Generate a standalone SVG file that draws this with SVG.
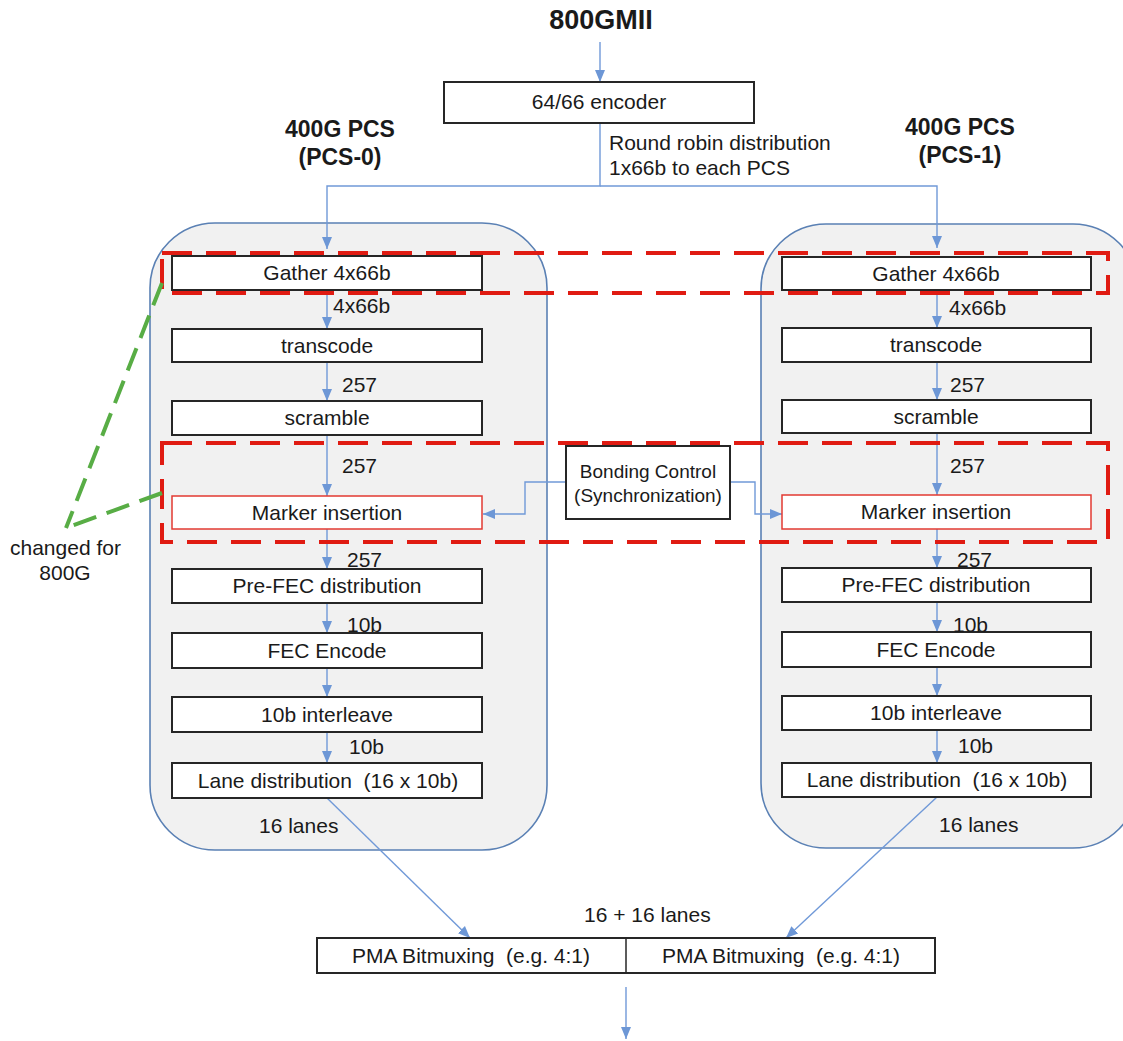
<svg xmlns="http://www.w3.org/2000/svg" width="1123" height="1041" viewBox="0 0 1123 1041">
  <style>
    text { font-family: "Liberation Sans", Arial, sans-serif; fill: #1a1a1a; white-space: pre; }
    .title { font-size: 27px; font-weight: bold; text-anchor: middle; }
    .pcs { font-size: 23px; font-weight: bold; text-anchor: middle; }
    .lbl { font-size: 21px; }
    .btxt { font-size: 21px; text-anchor: middle; }
    .small { font-size: 19px; text-anchor: middle; }
    .box { fill: #ffffff; stroke: #262626; stroke-width: 2; }
    .mbox { fill: #ffffff; stroke: #e23a32; stroke-width: 1.5; }
    .pcsbg { fill: #f1f1f1; stroke: #5a80b4; stroke-width: 1.6; }
    .conn { fill: none; stroke: #7099d8; stroke-width: 1.4; }
    .changed { fill: none; stroke: #e01b12; stroke-width: 4; stroke-dasharray: 30 14; }
    .note { fill: none; stroke: #58ad45; stroke-width: 4; stroke-dasharray: 24 11; }
  </style>
  <defs>
    <marker id="arrow" markerUnits="userSpaceOnUse" markerWidth="12" markerHeight="12" viewBox="0 0 12 12" refX="12" refY="6" orient="auto">
      <path d="M0,1 L12,6 L0,11 z" fill="#6d97d6"/>
    </marker>
  </defs>

  <rect width="1123" height="1041" fill="#ffffff"/>

  <!-- PCS containers -->
  <g id="pcs0-container">
    <rect class="pcsbg" x="150" y="223" width="397" height="627" rx="65" ry="65"/>
  </g>
  <g id="pcs1-container">
    <rect class="pcsbg" x="761" y="224" width="377" height="624" rx="65" ry="65"/>
  </g>

  <!-- headings -->
  <g id="title"><text class="title" x="601" y="29">800GMII</text></g>
  <g id="pcs0-title">
    <text class="pcs" x="340" y="137">400G PCS</text>
    <text class="pcs" x="340" y="165">(PCS-0)</text>
  </g>
  <g id="pcs1-title">
    <text class="pcs" x="960" y="135">400G PCS</text>
    <text class="pcs" x="960" y="163">(PCS-1)</text>
  </g>

  <!-- connectors -->
  <g id="connectors">
    <line class="conn" x1="600" y1="42" x2="600" y2="82" marker-end="url(#arrow)"/>
    <polyline class="conn" points="600,123 600,186 327,186 327,249" marker-end="url(#arrow)"/>
    <polyline class="conn" points="600,186 937,186 937,248" marker-end="url(#arrow)"/>

    <!-- PCS-0 chain -->
    <line class="conn" x1="327" y1="290" x2="327" y2="329" marker-end="url(#arrow)"/>
    <line class="conn" x1="327" y1="362" x2="327" y2="401" marker-end="url(#arrow)"/>
    <line class="conn" x1="327" y1="435" x2="327" y2="496" marker-end="url(#arrow)"/>
    <line class="conn" x1="327" y1="529" x2="327" y2="569" marker-end="url(#arrow)"/>
    <line class="conn" x1="327" y1="603" x2="327" y2="633" marker-end="url(#arrow)"/>
    <line class="conn" x1="327" y1="668" x2="327" y2="697" marker-end="url(#arrow)"/>
    <line class="conn" x1="327" y1="732" x2="327" y2="763" marker-end="url(#arrow)"/>

    <!-- PCS-1 chain -->
    <line class="conn" x1="937" y1="290" x2="937" y2="328" marker-end="url(#arrow)"/>
    <line class="conn" x1="937" y1="362" x2="937" y2="400" marker-end="url(#arrow)"/>
    <line class="conn" x1="937" y1="433" x2="937" y2="495" marker-end="url(#arrow)"/>
    <line class="conn" x1="937" y1="529" x2="937" y2="568" marker-end="url(#arrow)"/>
    <line class="conn" x1="937" y1="602" x2="937" y2="632" marker-end="url(#arrow)"/>
    <line class="conn" x1="937" y1="667" x2="937" y2="696" marker-end="url(#arrow)"/>
    <line class="conn" x1="937" y1="730" x2="937" y2="763" marker-end="url(#arrow)"/>

    <!-- bonding control to marker insertion -->
    <polyline class="conn" points="566,482 525,482 525,514 483,514" marker-end="url(#arrow)"/>
    <polyline class="conn" points="730,482 755,482 755,514 782,514" marker-end="url(#arrow)"/>

    <!-- lanes to PMA -->
    <line class="conn" x1="327" y1="798" x2="470" y2="938" marker-end="url(#arrow)"/>
    <line class="conn" x1="937" y1="797" x2="786" y2="938" marker-end="url(#arrow)"/>
    <line class="conn" x1="626" y1="987" x2="626" y2="1039" marker-end="url(#arrow)"/>
  </g>

  <!-- encoder -->
  <g id="encoder">
    <rect class="box" x="444" y="82" width="310" height="41"/>
    <text class="btxt" x="599" y="109">64/66 encoder</text>
  </g>
  <g id="distribution-label">
    <text class="lbl" x="609" y="150">Round robin distribution</text>
    <text class="lbl" x="609" y="175">1x66b to each PCS</text>
  </g>

  <!-- PCS-0 blocks -->
  <g id="pcs0-gather"><rect class="box" x="172" y="256" width="310" height="34"/><text class="btxt" x="327" y="280">Gather 4x66b</text></g>
  <g id="pcs0-transcode"><rect class="box" x="172" y="329" width="310" height="33"/><text class="btxt" x="327" y="353">transcode</text></g>
  <g id="pcs0-scramble"><rect class="box" x="172" y="401" width="310" height="34"/><text class="btxt" x="327" y="425">scramble</text></g>
  <g id="pcs0-marker"><rect class="mbox" x="172" y="496" width="310" height="33"/><text class="btxt" x="327" y="520">Marker insertion</text></g>
  <g id="pcs0-prefec"><rect class="box" x="172" y="569" width="310" height="34"/><text class="btxt" x="327" y="593">Pre-FEC distribution</text></g>
  <g id="pcs0-fec"><rect class="box" x="172" y="633" width="310" height="35"/><text class="btxt" x="327" y="658">FEC Encode</text></g>
  <g id="pcs0-interleave"><rect class="box" x="172" y="697" width="310" height="35"/><text class="btxt" x="327" y="722">10b interleave</text></g>
  <g id="pcs0-lanes"><rect class="box" x="172" y="763" width="310" height="35"/><text class="btxt" x="328" y="788">Lane distribution  (16 x 10b)</text></g>

  <g id="pcs0-labels">
    <text class="lbl" x="333" y="313">4x66b</text>
    <text class="lbl" x="342" y="392">257</text>
    <text class="lbl" x="342" y="473">257</text>
    <text class="lbl" x="347" y="567">257</text>
    <text class="lbl" x="347" y="632">10b</text>
    <text class="lbl" x="349" y="754">10b</text>
    <text class="lbl" x="259" y="833">16 lanes</text>
  </g>

  <!-- PCS-1 blocks -->
  <g id="pcs1-gather"><rect class="box" x="782" y="257" width="309" height="33"/><text class="btxt" x="936" y="281">Gather 4x66b</text></g>
  <g id="pcs1-transcode"><rect class="box" x="782" y="328" width="309" height="34"/><text class="btxt" x="936" y="352">transcode</text></g>
  <g id="pcs1-scramble"><rect class="box" x="782" y="400" width="309" height="33"/><text class="btxt" x="936" y="424">scramble</text></g>
  <g id="pcs1-marker"><rect class="mbox" x="782" y="495" width="309" height="34"/><text class="btxt" x="936" y="519">Marker insertion</text></g>
  <g id="pcs1-prefec"><rect class="box" x="782" y="568" width="309" height="34"/><text class="btxt" x="936" y="592">Pre-FEC distribution</text></g>
  <g id="pcs1-fec"><rect class="box" x="782" y="632" width="309" height="35"/><text class="btxt" x="936" y="657">FEC Encode</text></g>
  <g id="pcs1-interleave"><rect class="box" x="782" y="696" width="309" height="34"/><text class="btxt" x="936" y="720">10b interleave</text></g>
  <g id="pcs1-lanes"><rect class="box" x="782" y="763" width="309" height="34"/><text class="btxt" x="937" y="787">Lane distribution  (16 x 10b)</text></g>

  <g id="pcs1-labels">
    <text class="lbl" x="949" y="315">4x66b</text>
    <text class="lbl" x="950" y="392">257</text>
    <text class="lbl" x="950" y="473">257</text>
    <text class="lbl" x="957" y="567">257</text>
    <text class="lbl" x="953" y="632">10b</text>
    <text class="lbl" x="958" y="753">10b</text>
    <text class="lbl" x="939" y="832">16 lanes</text>
  </g>

  <!-- bonding control -->
  <g id="bonding-control">
    <rect class="box" x="566" y="446" width="164" height="73"/>
    <text class="small" x="648" y="478">Bonding Control</text>
    <text class="small" x="648" y="502">(Synchronization)</text>
  </g>

  <!-- PMA -->
  <g id="pma">
    <rect class="box" x="317" y="938" width="618" height="35"/>
    <line x1="626" y1="938" x2="626" y2="973" stroke="#262626" stroke-width="1.5"/>
    <text class="btxt" x="471" y="963">PMA Bitmuxing  (e.g. 4:1)</text>
    <text class="btxt" x="781" y="963">PMA Bitmuxing  (e.g. 4:1)</text>
  </g>
  <g id="pma-label"><text class="lbl" x="584" y="922">16 + 16 lanes</text></g>

  <!-- highlighted changes -->
  <g id="changed-regions">
    <rect class="changed" x="162" y="253" width="946" height="40"/>
    <rect class="changed" x="162" y="443" width="946" height="99"/>
  </g>
  <g id="changed-note">
    <path class="note" d="M162,283 L66,528"/>
    <path class="note" d="M162,493 L66,528"/>
    <text class="lbl" x="10" y="555">changed for</text>
    <text class="lbl" x="65" y="580" style="text-anchor:middle">800G</text>
  </g>
</svg>
